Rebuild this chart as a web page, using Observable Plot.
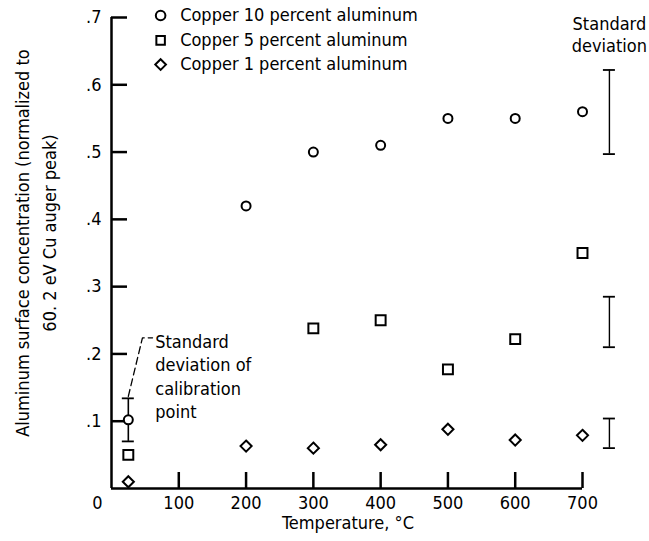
<!DOCTYPE html>
<html><head><meta charset="utf-8">
<script src="https://cdn.jsdelivr.net/npm/d3@7"></script>
<script src="https://cdn.jsdelivr.net/npm/@observablehq/plot@0.6"></script>
<style>
body{margin:0;background:#fff;}
#chart svg{font-family:"DejaVu Sans Condensed","DejaVu Sans",sans-serif;font-stretch:condensed;}
</style></head><body><div id="chart"></div>
<script>
// Data
const temps10 = [25, 200, 300, 400, 500, 600, 700];
const cu10 = [0.102, 0.42, 0.50, 0.51, 0.55, 0.55, 0.56];
const temps5 = [25, 300, 400, 500, 600, 700];
const cu5 = [0.05, 0.238, 0.25, 0.177, 0.222, 0.35];
const temps1 = [25, 200, 300, 400, 500, 600, 700];
const cu1 = [0.01, 0.063, 0.06, 0.065, 0.088, 0.072, 0.079];
const sdTemp = 740;
const sdLow = [0.497, 0.21, 0.06];
const sdHigh = [0.622, 0.285, 0.104];
const calibTemp = 25;
const calibLow = 0.07;
const calibHigh = 0.134;
const xTicks = [100, 200, 300, 400, 500, 600, 700];
const yTicks = [0.1, 0.2, 0.3, 0.4, 0.5, 0.6, 0.7];
const yTickLabels = [".1", ".2", ".3", ".4", ".5", ".6", ".7"];
const seriesNames = ["Copper 10 percent aluminum", "Copper 5 percent aluminum", "Copper 1 percent aluminum"];
const seriesSymbols = ["circle", "square", "diamond2"];
const yTitle1 = "Aluminum surface concentration (normalized to";
const yTitle2 = "60. 2 eV Cu auger peak)";
const xTitle = "Temperature, °C";

const FS = 18;
const legendRows = seriesNames.map((name, i) => ({name, symbol: seriesSymbols[i], y: [0.703, 0.666, 0.630][i]}));

const chart = Plot.plot({
  width: 649, height: 541,
  marginLeft: 111, marginRight: 67, marginTop: 17, marginBottom: 53,
  x: {domain: [0, 700]},
  y: {domain: [0, 0.7]},
  style: {fontSize: FS + "px", color: "black", background: "white"},
  marks: [
    Plot.axisX({ticks: xTicks, tickFormat: d => String(d), tickSize: 0, tickPadding: 8, label: null, fontSize: FS}),
    Plot.axisY({ticks: yTicks, tickFormat: d => yTickLabels[yTicks.indexOf(d)], tickSize: 0, tickPadding: 10, label: null, fontSize: FS}),
    Plot.text(["0"], {x: 0, frameAnchor: "bottom", dx: -14, lineAnchor: "top", dy: 8, fontSize: FS}),
    // axis lines
    Plot.ruleX([0], {y1: 0, y2: 0.7, strokeWidth: 2.5}),
    Plot.ruleY([0], {x1: 0, x2: 700, strokeWidth: 2.5}),
    // inward ticks
    Plot.ruleY(yTicks, {y: d => d, x1: 0, x2: 0, insetRight: -16, strokeWidth: 2.5}),
    Plot.ruleX(xTicks, {x: d => d, y1: 0, y2: 0, insetTop: -16, strokeWidth: 2.5}),
    // standard deviation bars
    Plot.ruleX(sdLow, {x: sdTemp, y1: d => d, y2: (d, i) => sdHigh[i], strokeWidth: 1.4}),
    Plot.ruleY([...sdLow, ...sdHigh], {y: d => d, x1: sdTemp, x2: sdTemp, insetLeft: -6, insetRight: -6, strokeWidth: 1.8}),
    Plot.ruleX([calibTemp], {x: d => d, y1: calibLow, y2: calibHigh, strokeWidth: 1.6}),
    Plot.ruleY([calibLow, calibHigh], {y: d => d, x1: calibTemp, x2: calibTemp, insetLeft: -6, insetRight: -6, strokeWidth: 1.8}),
    // data
    Plot.dot(temps10, {x: d => d, y: (d, i) => cu10[i], symbol: "circle", r: 4.5, stroke: "black", fill: "white", strokeWidth: 2}),
    Plot.dot(temps5, {x: d => d, y: (d, i) => cu5[i], symbol: "square", r: 5.6, stroke: "black", fill: "white", strokeWidth: 2}),
    Plot.dot(temps1, {x: d => d, y: (d, i) => cu1[i], symbol: "diamond2", r: 5, stroke: "black", fill: "white", strokeWidth: 2}),
    // legend
    Plot.dot(legendRows, {x: 73, y: "y", symbol: "symbol", r: 4.8, stroke: "black", fill: "white", strokeWidth: 2}),
    Plot.text(legendRows, {x: 102, y: "y", text: "name", textAnchor: "start", fontSize: FS}),
    // annotations
    Plot.line([[calibTemp, calibHigh + 0.003], [46, 0.224], [61, 0.224]], {x: d => d[0], y: d => d[1], strokeDasharray: "7,4", strokeWidth: 1.3}),
    Plot.text(["Standard\ndeviation of\ncalibration\npoint"], {x: 65, y: 0.168, textAnchor: "start", lineHeight: 1.3, fontSize: FS}),
    Plot.text(["Standard\ndeviation"], {x: sdTemp, y: 0.675, textAnchor: "middle", lineHeight: 1.22, fontSize: FS}),
    // axis titles
    Plot.text([xTitle], {frameAnchor: "bottom", lineAnchor: "middle", textAnchor: "middle", dx: 1, dy: 35, fontSize: FS}),
    Plot.text([yTitle1], {frameAnchor: "left", rotate: -90, textAnchor: "middle", lineAnchor: "middle", dx: -88, dy: -10, fontSize: FS}),
    Plot.text([yTitle2], {frameAnchor: "left", rotate: -90, textAnchor: "middle", lineAnchor: "middle", dx: -61, dy: -20, fontSize: FS})
  ]
});
document.getElementById("chart").appendChild(chart);
</script></body></html>
